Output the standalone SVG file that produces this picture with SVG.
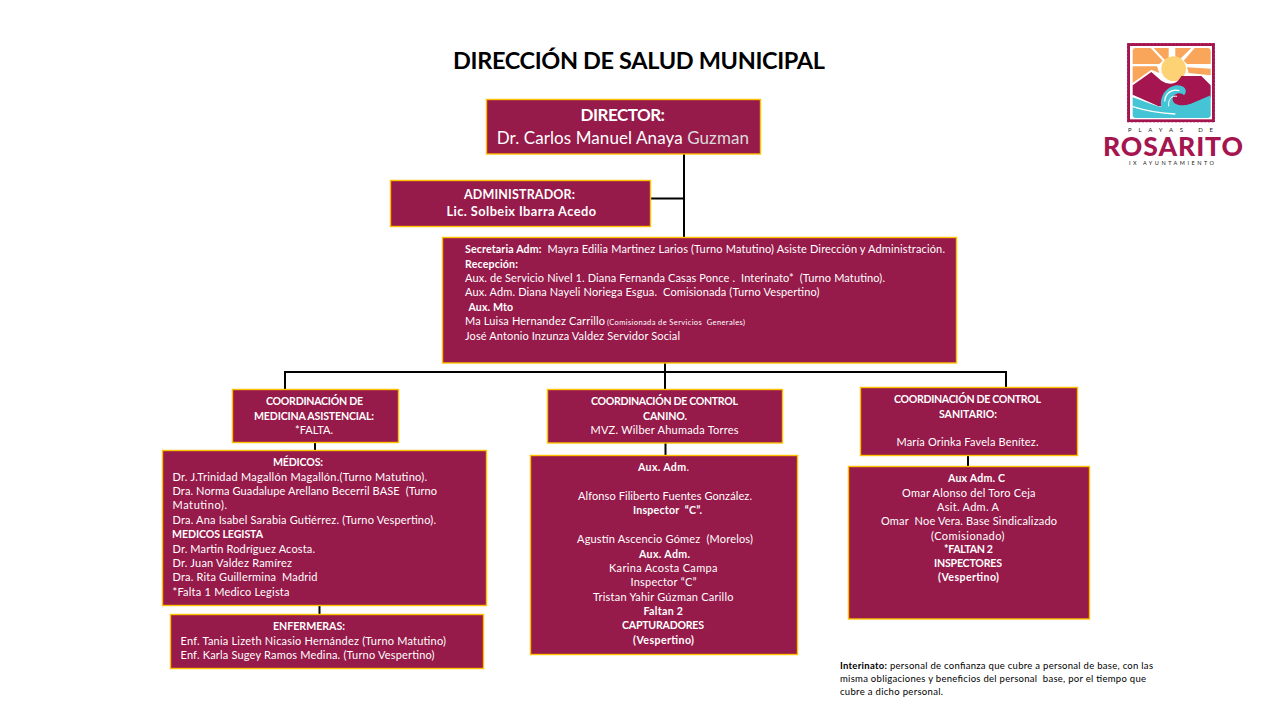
<svg xmlns="http://www.w3.org/2000/svg" width="1280" height="720" viewBox="0 0 1280 720">
<style>
text{font-family:Lato,"Liberation Sans",sans-serif;font-size:11px;fill:#fff;white-space:pre}
.b{font-weight:700;font-size:10.600px}
.box{fill:#961a4a;stroke:#ffc000;stroke-width:1.4}
.ln{stroke:#000;stroke-width:2;fill:none}
.k{fill:#000}
</style>
<rect width="1280" height="720" fill="#fff"/>
<text id="title" x="453" y="69" class="b k" style="font-size:23.500px" textLength="372">DIRECCIÓN DE SALUD MUNICIPAL</text>
<g id="connectors">
<path class="ln" d="M684 154V237M651 198.500H684M665 363V390M285 389V372H1006V387M315 442V450M319.500 605V614M665.500 443V455M968 455V466"/>
</g>
<g id="director"><rect class="box" x="486.500" y="99.500" width="274" height="54.500"/>
<text x="580.500" y="121" class="b" style="font-size:17px" textLength="84.500">DIRECTOR:</text>
<text x="496.700" y="144" style="font-size:17px" textLength="252.300">Dr. Carlos Manuel Anaya <tspan fill="#dcdcdc">Guzman</tspan></text></g>
<g id="administrador"><rect class="box" x="390.500" y="180.500" width="260" height="46"/>
<text x="464" y="199" class="b" style="font-size:12.500px" textLength="111">ADMINISTRADOR:</text>
<text x="446.500" y="216" class="b" style="font-size:12.800px" textLength="149.500">Lic. Solbeix Ibarra Acedo</text></g>
<g id="secretaria"><rect class="box" x="442.500" y="237.500" width="514" height="125.500"/>
<text x="465" y="252.500" textLength="480"><tspan class="b">Secretaria Adm:</tspan>  Mayra Edilia Martinez Larios (Turno Matutino) Asiste Dirección y Administración.</text>
<text x="465" y="268" class="b" textLength="53">Recepción:</text>
<text x="465" y="282" textLength="420">Aux. de Servicio Nivel 1. Diana Fernanda Casas Ponce .  Interinato*  (Turno Matutino).</text>
<text x="465" y="296" textLength="354.500">Aux. Adm. Diana Nayeli Noriega Esgua.  Comisionada (Turno Vespertino)</text>
<text x="468.500" y="311" class="b" textLength="44.500">Aux. Mto</text>
<text x="465" y="325" textLength="140">Ma Luisa Hernandez Carrillo</text>
<text x="607" y="325" style="font-size:7.500px" textLength="138">(Comisionada de Servicios  Generales)</text>
<text x="465" y="340" textLength="215">José Antonio Inzunza Valdez Servidor Social</text></g>
<g id="coord-medicina"><rect class="box" x="232.500" y="389.500" width="166" height="53"/>
<text x="266" y="405" class="b" textLength="97">COORDINACIÓN DE</text>
<text x="254" y="419.500" class="b" textLength="120">MEDICINA ASISTENCIAL:</text>
<text x="295" y="434" textLength="38">*FALTA.</text></g>
<g id="medicos"><rect class="box" x="162.500" y="450.500" width="324" height="155"/>
<text x="273" y="466" class="b" textLength="50">MÉDICOS:</text>
<text x="172.500" y="481" textLength="254.500">Dr. J.Trinidad Magallón Magallón.(Turno Matutino).</text>
<text x="172.500" y="495" textLength="264.500">Dra. Norma Guadalupe Arellano Becerril BASE  (Turno</text>
<text x="172.500" y="509" textLength="54.500">Matutino).</text>
<text x="172.500" y="524" textLength="263.500">Dra. Ana Isabel Sarabia Gutiérrez. (Turno Vespertino).</text>
<text x="172" y="538" class="b" textLength="91">MEDICOS LEGISTA</text>
<text x="172.500" y="553" textLength="142.500">Dr. Martin Rodríguez Acosta.</text>
<text x="172.500" y="567" textLength="119.500">Dr. Juan Valdez Ramírez</text>
<text x="172.500" y="581" textLength="145">Dra. Rita Guillermina  Madrid</text>
<text x="172.500" y="596" textLength="117">*Falta 1 Medico Legista</text></g>
<g id="enfermeras"><rect class="box" x="170.500" y="614.500" width="313" height="54"/>
<text x="273" y="630" class="b" textLength="72">ENFERMERAS:</text>
<text x="180.500" y="645" textLength="265.500">Enf. Tania Lizeth Nicasio Hernández (Turno Matutino)</text>
<text x="180.500" y="659" textLength="254">Enf. Karla Sugey Ramos Medina. (Turno Vespertino)</text></g>
<g id="coord-canino"><rect class="box" x="547.500" y="389.500" width="235" height="53.500"/>
<text x="591" y="405" class="b" textLength="147">COORDINACIÓN DE CONTROL</text>
<text x="643" y="420" class="b" textLength="44">CANINO.</text>
<text x="590.500" y="434" textLength="148">MVZ. Wilber Ahumada Torres</text></g>
<g id="aux-canino"><rect class="box" x="530.500" y="455.500" width="267" height="199"/>
<text x="638" y="471" textLength="51"><tspan class="b">Aux. Adm</tspan>.</text>
<text x="578" y="500" textLength="174">Alfonso Filiberto Fuentes González.</text>
<text x="633" y="514" class="b" textLength="69">Inspector  “C”.</text>
<text x="577" y="543" textLength="176">Agustín Ascencio Gómez  (Morelos)</text>
<text x="639" y="558" class="b" textLength="51">Aux. Adm.</text>
<text x="609" y="572" textLength="108.500">Karina Acosta Campa</text>
<text x="630.500" y="586" textLength="66">Inspector “C”</text>
<text x="593" y="601" textLength="140.500">Tristan Yahir Gúzman Carillo</text>
<text x="643.500" y="615" class="b" textLength="39.500">Faltan 2</text>
<text x="622" y="629" class="b" textLength="82">CAPTURADORES</text>
<text x="633" y="644" class="b" textLength="61">(Vespertino)</text></g>
<g id="coord-sanitario"><rect class="box" x="860.500" y="387.500" width="217" height="68"/>
<text x="894" y="403" class="b" textLength="147">COORDINACIÓN DE CONTROL</text>
<text x="939" y="418" class="b" textLength="58">SANITARIO:</text>
<text x="896.500" y="446" textLength="142">María Orinka Favela Benítez.</text></g>
<g id="aux-sanitario"><rect class="box" x="848.500" y="466.500" width="241" height="152.500"/>
<text x="948" y="482" class="b" textLength="57">Aux Adm. C</text>
<text x="902" y="497" textLength="133.500">Omar Alonso del Toro Ceja</text>
<text x="937" y="511" textLength="62">Asit. Adm. A</text>
<text x="881" y="525" textLength="176">Omar  Noe Vera. Base Sindicalizado</text>
<text x="931" y="540" textLength="73.500">(Comisionado)</text>
<text x="944" y="553" class="b" textLength="49">*FALTAN 2</text>
<text x="934" y="567" class="b" textLength="68">INSPECTORES</text>
<text x="938" y="581" class="b" textLength="61">(Vespertino)</text></g>
<g id="nota">
<text x="840" y="669" class="k" style="font-size:9.500px" textLength="313"><tspan class="b" style="font-size:9.500px">Interinato:</tspan> personal de confianza que cubre a personal de base, con las</text>
<text x="840" y="682" class="k" style="font-size:9.500px" textLength="306">misma obligaciones y beneficios del personal  base, por el tiempo que</text>
<text x="840" y="695" class="k" style="font-size:9.500px" textLength="103">cubre a dicho personal.</text>
</g>
<g id="logo">
<g transform="translate(1122 38) scale(.33333)">
<rect x="15" y="15" width="264" height="238" fill="#a5154f"/>
<rect x="14" y="14" width="266" height="240" fill="none" stroke="#fff" stroke-width="3" stroke-dasharray="5 6"/>
<rect x="24" y="24" width="246" height="220" fill="#fff"/>
<g fill="#f9a65a">
<path d="M32 40Q32 30 42 30H86L122 68L112 78H32Z"/>
<path d="M95 30H140V60L128 65Z"/>
<path d="M160 30H208L175 62L160 55Z"/>
<path d="M218 30H256Q266 30 266 40V78H195L185 68Z"/>
<path d="M32 85H105L112 105L88 95L32 135Z"/>
<path d="M195 88L266 92V112L200 105Z"/>
</g>
<circle cx="155" cy="92" r="37" fill="#fdd274"/>
<path d="M32 142L88 102L118 128Q135 140 155 136Q170 130 178 114H238L266 142V178L190 205H110L32 170Z" fill="#a5154f"/>
<path d="M32 178C60 188 90 200 118 208C112 178 130 146 165 142C190 142 198 160 186 172C178 160 150 165 152 185C155 202 180 205 205 198L266 172V232Q266 240 256 240H42Q32 240 32 230Z" fill="#45c4d6"/>
<path d="M32 206C70 218 110 226 160 228" fill="none" stroke="#fff" stroke-width="4"/>
<path d="M128 190C130 165 150 152 172 158" fill="none" stroke="#fff" stroke-width="4"/>
<path d="M140 205C138 182 150 172 165 175" fill="none" stroke="#fff" stroke-width="3"/>
<circle cx="170" cy="186" r="4" fill="#a5154f"/>
</g>
<text x="1128" y="132" style="font-size:6px;fill:#222" textLength="85">PLAYAS DE</text>
<text x="1103" y="156" style="font-size:26.500px;font-weight:900;fill:#a5154f" textLength="140">ROSARITO</text>
<text x="1129" y="165" style="font-size:5.500px;fill:#222" textLength="85">IX AYUNTAMIENTO</text>
</g>
</svg>
